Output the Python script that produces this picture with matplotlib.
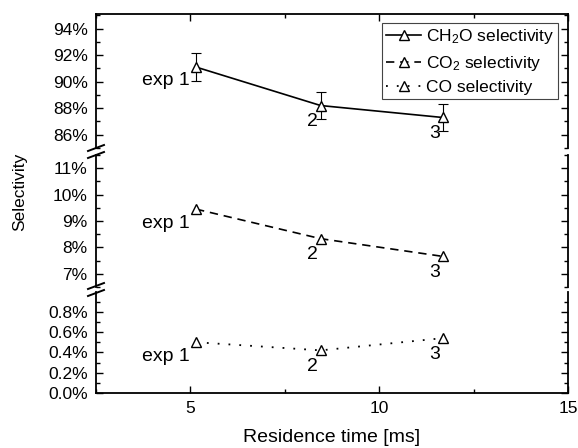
import numpy as np
import matplotlib
matplotlib.use("Agg")
import matplotlib.pyplot as plt
from matplotlib.lines import Line2D
from matplotlib.ticker import MultipleLocator, FormatStrFormatter

plt.rcParams['font.family'] = ['Liberation Sans', 'DejaVu Sans']
plt.rcParams['mathtext.default'] = 'regular'

# data (selectivity in %)
res_time = [5.15, 8.45, 11.68]
ch2o = [91.1, 88.2, 87.3]
ch2o_err = [1.05, 1.0, 1.0]
co2 = [9.45, 8.33, 7.66]
co = [0.50, 0.42, 0.54]
point_labels = ['exp 1', '2', '3']

W, H = 578, 448
fig = plt.figure(figsize=(W / 100, H / 100), dpi=100)

def box(top, bottom, left=96, right=568):
    return [left / W, 1 - bottom / H, (right - left) / W, (bottom - top) / H]

ax_top = fig.add_axes(box(14, 148))
ax_mid = fig.add_axes(box(155, 287))
ax_bot = fig.add_axes(box(292, 393))
axes = [ax_top, ax_mid, ax_bot]

ax_top.set_ylim(85, 95.1)
ax_mid.set_ylim(6.5, 11.5)
ax_bot.set_ylim(0, 0.995)

ax_top.yaxis.set_major_locator(MultipleLocator(2))
ax_top.yaxis.set_minor_locator(MultipleLocator(1))
ax_top.yaxis.set_major_formatter(FormatStrFormatter('%d%%'))
ax_mid.yaxis.set_major_locator(MultipleLocator(1))
ax_mid.yaxis.set_minor_locator(MultipleLocator(0.5))
ax_mid.yaxis.set_major_formatter(FormatStrFormatter('%d%%'))
ax_bot.yaxis.set_major_locator(MultipleLocator(0.2))
ax_bot.yaxis.set_minor_locator(MultipleLocator(0.1))
ax_bot.yaxis.set_major_formatter(FormatStrFormatter('%.1f%%'))

for ax in axes:
    ax.set_xlim(2.5, 15)
    ax.xaxis.set_major_locator(MultipleLocator(5))
    ax.xaxis.set_minor_locator(MultipleLocator(2.5))
    for s in ax.spines.values():
        s.set_linewidth(1.3)
    ax.tick_params(which='both', direction='in', right=True, width=1.0,
                   labelsize=12.5, pad=6)
    ax.tick_params(which='major', length=5)
    ax.tick_params(which='minor', length=3)
    ax.tick_params(axis='x', which='both', top=False, bottom=False,
                   labelbottom=False)

ax_top.spines['bottom'].set_visible(False)
ax_mid.spines['top'].set_visible(False)
ax_mid.spines['bottom'].set_visible(False)
ax_bot.spines['top'].set_visible(False)
ax_top.tick_params(axis='x', which='both', top=True)
ax_bot.tick_params(axis='x', which='both', bottom=True, labelbottom=True)

# CH2O with error bars
ax_top.errorbar(res_time, ch2o, yerr=ch2o_err, fmt='none', ecolor='k',
                elinewidth=0.8, capsize=3.5, capthick=0.8, zorder=2)
h1, = ax_top.plot(res_time, ch2o, '-', color='k', lw=1.2, marker='^',
                  ms=7, mfc='white', mec='k', mew=1.0, zorder=3,
                  label='CH$_2$O selectivity')
h2, = ax_mid.plot(res_time, co2, color='k', lw=1.2, dashes=(5, 3.5),
                  marker='^', ms=7, mfc='white', mec='k', mew=1.0, zorder=3,
                  label='CO$_2$ selectivity')
h3, = ax_bot.plot(res_time, co, color='k', lw=1.3, dashes=(1, 5),
                  marker='^', ms=7, mfc='white', mec='k', mew=1.0, zorder=3,
                  label='CO selectivity')

for ax, vals in [(ax_top, ch2o), (ax_mid, co2), (ax_bot, co)]:
    for i, (xv, yv) in enumerate(zip(res_time, vals)):
        if i == 0:
            ax.annotate(point_labels[i], (xv, yv), xytext=(-4.5, -10),
                        textcoords='offset points', ha='right', va='center',
                        fontsize=14)
        else:
            ax.annotate(point_labels[i], (xv, yv), xytext=(-6, -11.5),
                        textcoords='offset points', ha='center', va='center',
                        fontsize=14)

leg = ax_top.legend(handles=[h1, h2, h3], loc='upper right',
                    bbox_to_anchor=(558 / W, 1 - 23 / H),
                    bbox_transform=fig.transFigure, borderaxespad=0,
                    fontsize=12.5, handlelength=2.0, handletextpad=0.25,
                    labelspacing=0.42, borderpad=0.25, fancybox=False,
                    framealpha=1, edgecolor='#444444', numpoints=1)
leg.get_frame().set_linewidth(0.8)

# break marks on the left axis
for yc in (151.5, 289.5):
    for dy in (-3.5, 3.5):
        x0, x1 = 88 / W, 104 / W
        y0, y1 = 1 - (yc + dy + 3) / H, 1 - (yc + dy - 3) / H
        fig.add_artist(Line2D([x0, x1], [y0, y1], color='k', lw=1.4,
                              transform=fig.transFigure))

fig.text(20 / W, 1 - 192 / H, 'Selectivity', rotation=90, ha='center',
         va='center', fontsize=12.5)
fig.text(332 / W, 1 - 437 / H, 'Residence time [ms]', ha='center',
         va='center', fontsize=14)

fig.savefig('out.png', dpi=100)
